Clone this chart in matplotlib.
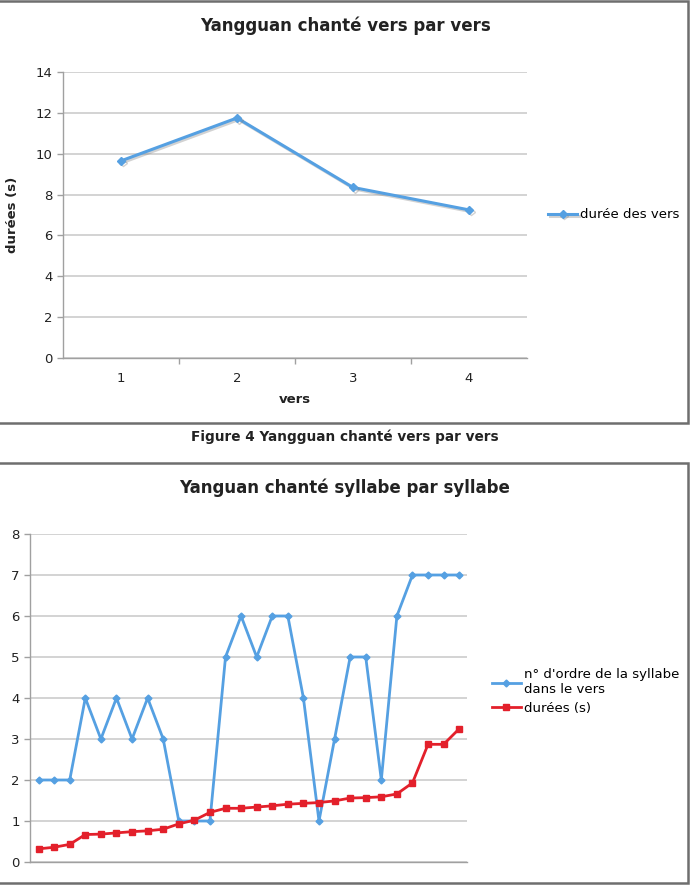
import matplotlib.pyplot as plt
import matplotlib.patheffects as pe
from matplotlib.patches import Rectangle

# chart 1 : durée des vers
vers = [1, 2, 3, 4]
durees_vers = [9.65, 11.75, 8.35, 7.25]

# chart 2 : syllabe par syllabe
syll_idx = list(range(1, 29))
ordre_syllabe = [2, 2, 2, 4, 3, 4, 3, 4, 3, 1, 1, 1, 5, 6, 5, 6, 6, 4, 1, 3, 5, 5, 2, 6, 7, 7, 7, 7]
durees_syll = [0.32, 0.36, 0.43, 0.67, 0.68, 0.71, 0.74, 0.76, 0.80, 0.93, 1.02, 1.21, 1.31, 1.31,
               1.34, 1.37, 1.41, 1.43, 1.45, 1.49, 1.56, 1.57, 1.59, 1.66, 1.93, 2.87, 2.87, 3.25]

blue = '#55A0E2'
red = '#E3202B'
grid_c = '#CCCCCC'
axis_c = '#A0A0A0'
text_c = '#222222'

plt.rcParams['font.family'] = ['DejaVu Sans']

W, H = 691, 885
fig = plt.figure(figsize=(W / 100, H / 100), dpi=100)


def px(x0, y0, x1, y1):
    # pixel box -> figure fraction [left, bottom, width, height]
    return [x0 / W, 1 - y1 / H, (x1 - x0) / W, (y1 - y0) / H]


def style_axes(ax):
    for s in ('top', 'right'):
        ax.spines[s].set_visible(False)
    for s in ('left', 'bottom'):
        ax.spines[s].set_color(axis_c)
        ax.spines[s].set_linewidth(1)
    ax.yaxis.grid(True, color=grid_c, linewidth=1.2)
    ax.set_axisbelow(True)
    ax.tick_params(axis='y', colors=axis_c, labelcolor=text_c, labelsize=9.5, length=4, width=1)


# chart frames
for (x0, y0, x1, y1) in [(-2, 1, 688, 423), (-2, 463, 688, 883)]:
    fig.patches.append(Rectangle((x0 / W, 1 - y1 / H), (x1 - x0) / W, (y1 - y0) / H,
                                 transform=fig.transFigure, fill=False,
                                 edgecolor='#6E6E6E', linewidth=1.8))

# ---- top chart
ax1 = fig.add_axes(px(63, 72, 527, 358))
style_axes(ax1)
ax1.plot(vers, durees_vers, color=blue, linewidth=2.2, marker='D', markersize=4,
         label='durée des vers',
         path_effects=[pe.SimpleLineShadow(offset=(1.2, -1.2), shadow_color='gray', alpha=0.35),
                       pe.Normal()])
ax1.set_xlim(0.5, 4.5)
ax1.set_ylim(0, 14)
ax1.set_yticks(range(0, 15, 2))
ax1.set_xticks([1.5, 2.5, 3.5], minor=False)
ax1.set_xticks(vers, minor=True)
ax1.set_xticklabels([])
ax1.set_xticklabels([str(v) for v in vers], minor=True)
ax1.tick_params(axis='x', which='major', colors=axis_c, length=4, width=1)
ax1.tick_params(axis='x', which='minor', length=0, labelsize=9.5, labelcolor=text_c, pad=10)
ax1.set_xlabel('vers', fontsize=9.5, fontweight='bold', color=text_c, labelpad=6)
ax1.set_ylabel('durées (s)', fontsize=9.5, fontweight='bold', color=text_c, labelpad=12)
ax1.legend(loc='center left', bbox_to_anchor=(1.02, 0.5), frameon=False, fontsize=9.5,
           handlelength=2.2, handletextpad=0.2)
fig.text(345 / W, 1 - 26 / H, 'Yangguan chanté vers par vers', ha='center', va='center',
         fontsize=12, fontweight='bold', color=text_c)

fig.text(345 / W, 1 - 437 / H, 'Figure 4 Yangguan chanté vers par vers', ha='center',
         va='center', fontsize=9.8, fontweight='bold', color=text_c)

# ---- bottom chart
ax2 = fig.add_axes(px(30, 534, 467, 862))
style_axes(ax2)
ax2.plot(syll_idx, ordre_syllabe, color=blue, linewidth=2, marker='D', markersize=3.5,
         label="n° d'ordre de la syllabe\ndans le vers")
ax2.plot(syll_idx, durees_syll, color=red, linewidth=2, marker='s', markersize=5,
         label='durées (s)')
ax2.set_xlim(0.45, 28.5)
ax2.set_ylim(0, 8)
ax2.set_yticks(range(0, 9))
ax2.set_xticks([])
ax2.legend(loc='center left', bbox_to_anchor=(1.03, 0.52), frameon=False, fontsize=9.5,
           handlelength=2.2, handletextpad=0.2, labelspacing=0.4)
fig.text(345 / W, 1 - 488 / H, 'Yanguan chanté syllabe par syllabe', ha='center', va='center',
         fontsize=12, fontweight='bold', color=text_c)

fig.savefig('out.png', dpi=100)
